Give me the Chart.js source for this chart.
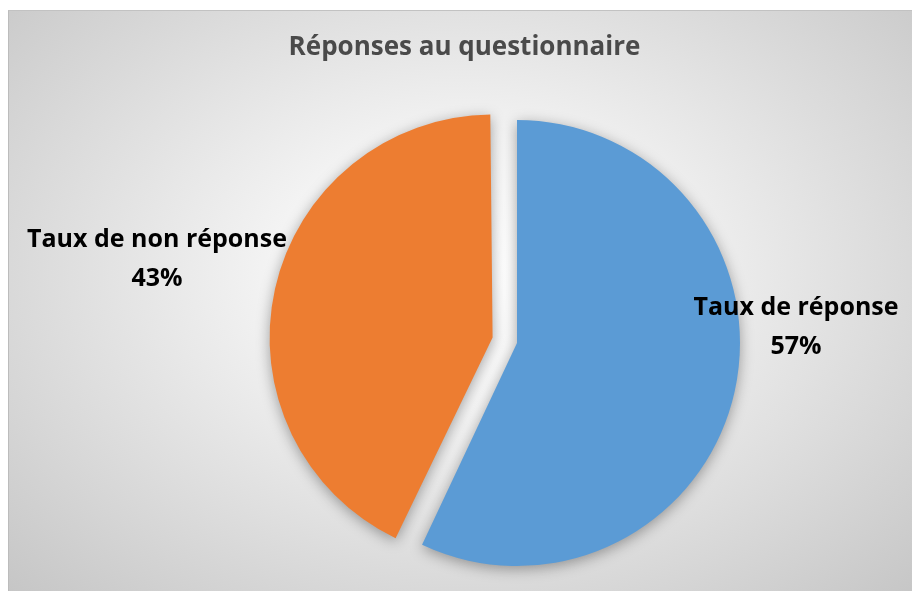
<!DOCTYPE html>
<html>
<head>
<meta charset="utf-8">
<script src="https://cdn.jsdelivr.net/npm/chart.js@4/dist/chart.umd.min.js"></script>
<style>
  html, body { margin: 0; padding: 0; background: #fff; overflow: hidden; }
  #box {
    position: absolute; left: 8px; top: 10px; width: 912px; height: 581px;
    box-sizing: border-box;
    border-left: 1px solid #bcbcbc; border-top: 1px solid #c2c2c2;
    background: radial-gradient(ellipse farthest-corner at 50% 45%, #ffffff 0%, #f3f3f3 30%, #c6c6c6 100%);
  }
  #pie { position: absolute; left: 0; top: 0; }
</style>
</head>
<body>
<div id="box"><canvas id="pie" width="911" height="580"></canvas></div>
<script>
const chartTitle = 'Réponses au questionnaire';
const categories = ['Taux de réponse', 'Taux de non réponse'];
const values = [57, 43];
const colors = ['#5B9BD5', '#ED7D31'];
const explode = [0, 100];

// where each label sits, measured from the pie edge
const labelPlacement = [
  { side: 1, gap: 56, dy: -28 },
  { side: -1, gap: 137, dy: -96 },
];

const total = values.reduce((a, b) => a + b, 0);

const frameTitle = {
  id: 'frameTitle',
  afterDraw(chart) {
    const ctx = chart.ctx;
    ctx.save();
    ctx.font = 'bold 26px "Open Sans"';
    ctx.fillStyle = '#4a4a4a';
    ctx.textAlign = 'center';
    ctx.textBaseline = 'alphabetic';
    ctx.fillText(chartTitle, chart.width / 2, 44);
    ctx.restore();
  }
};

// Chart.js also grows an exploded slice a bit, keep it the same size as the others
const keepRadius = {
  id: 'keepRadius',
  afterDatasetUpdate(chart, args) {
    args.meta.data.forEach(arc => {
      const grow = (arc.options.offset || 0) / 4 * (1 - Math.sin(Math.min(Math.PI, arc.circumference)));
      arc.outerRadius -= grow;
    });
  }
};

const sliceShadow = {
  id: 'sliceShadow',
  beforeDatasetsDraw(chart) {
    const ctx = chart.ctx;
    ctx.save();
    ctx.shadowColor = 'rgba(0, 0, 0, 0.35)';
    ctx.shadowBlur = 14;
    ctx.shadowOffsetY = 3;
  },
  afterDatasetsDraw(chart) {
    chart.ctx.restore();
  }
};

const sliceLabels = {
  id: 'sliceLabels',
  afterDatasetsDraw(chart) {
    const ctx = chart.ctx;
    const meta = chart.getDatasetMeta(0);
    const r = meta.controller.outerRadius;
    ctx.save();
    ctx.font = 'bold 25px "Open Sans"';
    ctx.fillStyle = '#000';
    ctx.textAlign = 'center';
    ctx.textBaseline = 'alphabetic';
    meta.data.forEach((arc, i) => {
      const p = labelPlacement[i];
      const x = arc.x + p.side * (r + p.gap);
      const y = arc.y + p.dy;
      const pct = Math.round(values[i] / total * 100) + '%';
      ctx.fillText(categories[i], x, y);
      ctx.fillText(pct, x, y + 39);
    });
    ctx.restore();
  }
};

new Chart(document.getElementById('pie'), {
  type: 'pie',
  data: {
    labels: categories,
    datasets: [{
      data: values,
      backgroundColor: colors,
      borderWidth: 0,
      offset: explode,
      radius: 223,
    }],
  },
  options: {
    responsive: false,
    animation: false,
    layout: { padding: { top: 84, bottom: 0, left: 105, right: 0 } },
    plugins: {
      legend: { display: false },
      tooltip: { enabled: false },
      title: { display: false },
    },
  },
  plugins: [keepRadius, sliceShadow, sliceLabels, frameTitle],
});
</script>
</body>
</html>
